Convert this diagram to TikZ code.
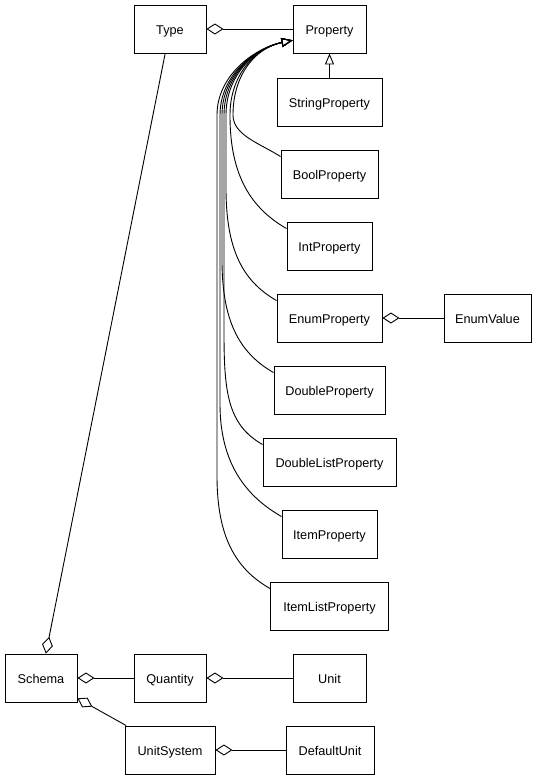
\documentclass[tikz,border=0pt]{standalone}
\usepackage{fontspec}
\setmainfont{Liberation Sans}
\usetikzlibrary{arrows.meta}

\begin{document}
\begin{tikzpicture}[x=1pt, y=-1pt,
    cls/.style={draw, line width=0.9pt, minimum height=48pt, inner sep=0pt,
      text height=10.5pt, text depth=0pt, font=\fontsize{12.7}{15}\selectfont},
    agg/.style={{Diamond[open, length=17pt, width=11pt]}-, line width=0.9pt},
    isa/.style={-{Triangle[open, length=11pt, width=9pt]}, line width=0.9pt}]
  \useasboundingbox (0,0) rectangle (537,779);

  % classes
  \node[cls, minimum width=72pt]  (type)     at (170,29)    {Type};
  \node[cls, minimum width=73pt]  (prop)     at (329.5,29)  {Property};
  \node[cls, minimum width=105pt] (strprop)  at (329.5,102) {StringProperty};
  \node[cls, minimum width=97pt]  (boolprop) at (329.5,174) {BoolProperty};
  \node[cls, minimum width=85pt]  (intprop)  at (329.5,246) {IntProperty};
  \node[cls, minimum width=105pt] (enumprop) at (329.5,318) {EnumProperty};
  \node[cls, minimum width=87pt]  (enumval)  at (487.5,318) {EnumValue};
  \node[cls, minimum width=111pt] (dblprop)  at (329.5,390) {DoubleProperty};
  \node[cls, minimum width=133pt] (dbllist)  at (329.5,462) {DoubleListProperty};
  \node[cls, minimum width=95pt]  (itemprop) at (329.5,534) {ItemProperty};
  \node[cls, minimum width=118pt] (itemlist) at (329.5,606) {ItemListProperty};
  \node[cls, minimum width=72pt]  (schema)   at (41,678)    {Schema};
  \node[cls, minimum width=72pt]  (qty)      at (170,678)   {Quantity};
  \node[cls, minimum width=73pt]  (unit)     at (329.5,678) {Unit};
  \node[cls, minimum width=90pt]  (unitsys)  at (170,750)   {UnitSystem};
  \node[cls, minimum width=88pt]  (defunit)  at (330,750)   {DefaultUnit};

  % aggregations
  \draw[agg] (type) -- (prop);
  \draw[agg] (schema) -- (type);
  \draw[agg] (enumprop) -- (enumval);
  \draw[agg] (schema) -- (qty);
  \draw[agg] (qty) -- (unit);
  \draw[agg] (schema) -- (unitsys);
  \draw[agg] (unitsys) -- (defunit);

  % inheritance
  \draw[isa] (strprop) -- (prop);
  \draw[isa] ([yshift=-7pt]boolprop.north west) .. controls (259,143) and (233,135) .. (233,115)
    .. controls (233,75) and (255,48) .. (prop.197);
  \foreach \s/\xv/\yc in {intprop/230/246, enumprop/226/318, dblprop/222/390,
                          dbllist/224/462, itemprop/220/534, itemlist/217/606}
    \draw[isa] ([yshift=-7pt]\s.north west) .. controls +(-35,-20) and +(0,60) .. (\xv,{\yc-130})
      -- (\xv,115) .. controls (\xv,75) and (255,48) .. (prop.197);
\end{tikzpicture}
\end{document}
